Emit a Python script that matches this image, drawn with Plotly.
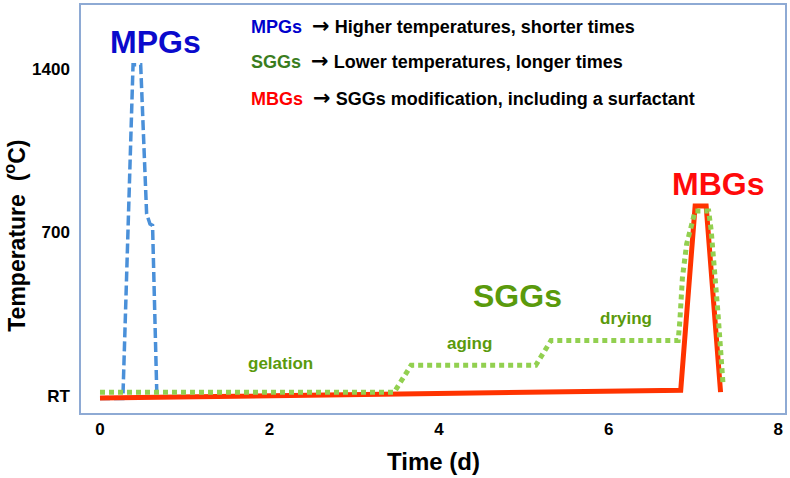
import plotly.graph_objects as go

# ---- data (time in days, temperature in degC; RT plotted at 0) ----
mpg_t = [0, 0.27, 0.39, 0.48, 0.55, 0.59, 0.62, 0.67]
mpg_T = [-10, -10, 1417, 1417, 779, 736, 730, 13]

sgg_t = [0, 3.47, 3.67, 5.14, 5.32, 6.82, 6.84, 6.87, 6.92, 7.02, 7.18, 7.21, 7.29, 7.35]
sgg_T = [17, 17, 132, 132, 238, 238, 323, 506, 651, 791, 791, 706, 353, 47]

mbg_t = [0, 6.85, 7.02, 7.15, 7.32]
mbg_T = [-8, 25, 813, 813, 17]

x_ticks = [0, 2, 4, 6, 8]
y_tickvals = [0, 700, 1400]
y_ticktext = ["RT", "700", "1400"]

FONT = "Liberation Sans, Arial, sans-serif"
GREEN_TXT = "#5a9a0c"

fig = go.Figure()
fig.add_trace(go.Scatter(x=mpg_t, y=mpg_T, mode="lines",
                         line=dict(color="#4a90d9", width=3.5, dash="10px,4px"),
                         showlegend=False))
fig.add_trace(go.Scatter(x=mbg_t, y=mbg_T, mode="lines",
                         line=dict(color="#ff3300", width=5),
                         showlegend=False))
fig.add_trace(go.Scatter(x=sgg_t, y=sgg_T, mode="lines",
                         line=dict(color="#92d050", width=5, dash="5px,4px"),
                         showlegend=False))

axis_line = "#8eaad4"
fig.update_xaxes(range=[-0.224, 8.08], tickvals=x_ticks, showgrid=False, zeroline=False,
                 showline=True, linecolor=axis_line, linewidth=1.5, mirror=True,
                 ticks="", tickfont=dict(family=FONT, size=17, color="black", weight="bold"))
fig.update_yaxes(range=[-72, 1672], tickvals=y_tickvals, ticktext=y_ticktext,
                 showgrid=False, zeroline=False,
                 showline=True, linecolor=axis_line, linewidth=1.5, mirror=True,
                 ticks="", ticklabelstandoff=6,
                 tickfont=dict(family=FONT, size=17, color="black", weight="bold"))

def ann(text, x, y, size, color, xref="x", yref="y", xanchor="center", angle=0):
    fig.add_annotation(text=text, x=x, y=y, xref=xref, yref=yref, showarrow=False,
                       xanchor=xanchor, yanchor="middle", textangle=angle,
                       font=dict(family=FONT, size=size, color=color, weight="bold"))

# labels on curves
ann("MPGs", 0.65, 1515, 32, "#0a0acc")
ann("MBGs", 7.29, 906, 32, "#ff0a0a")
ann("SGGs", 4.92, 430, 32, GREEN_TXT)
ann("gelation", 2.13, 140, 17, GREEN_TXT)
ann("aging", 4.36, 225, 17, GREEN_TXT)
ann("drying", 6.21, 332, 17, GREEN_TXT)

# top explanatory lines
arrow = "\u00a0\u00a0<span style='font-family:DejaVu Sans;font-size:21px'>→</span> "
ann("<span style='color:#0000cc'>MPGs</span>" + arrow + "Higher temperatures, shorter times",
    0.238, 0.948, 18, "black", xref="paper", yref="paper", xanchor="left")
ann("<span style='color:#3a7d1e'>SGGs</span>" + arrow + "Lower temperatures, longer times",
    0.238, 0.862, 18, "black", xref="paper", yref="paper", xanchor="left")
ann("<span style='color:#ff0000'>MBGs</span>" + arrow + "SGGs modification, including a surfactant",
    0.238, 0.772, 18, "black", xref="paper", yref="paper", xanchor="left")

# axis titles
ann("Time (d)", 0.5, -0.1195, 24, "black", xref="paper", yref="paper")
ann("Temperature  (<sup>o</sup>C)", -0.094, 0.434, 23, "black", xref="paper", yref="paper", angle=-90)

fig.update_layout(width=790, height=478, margin=dict(l=81, r=3, t=3, b=65),
                  plot_bgcolor="white", paper_bgcolor="white", hovermode=False)

fig.write_html("out.html", config={"displayModeBar": False},
               post_script="document.body.style.margin='0';document.body.style.overflow='hidden';")
